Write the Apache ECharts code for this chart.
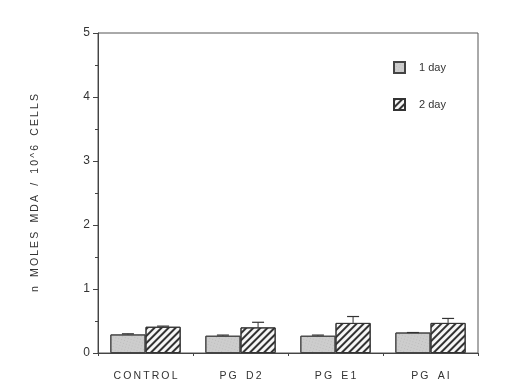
<!DOCTYPE html>
<html><head><meta charset="utf-8">
<script src="https://cdn.jsdelivr.net/npm/echarts@6/dist/echarts.min.js"></script>
<style>html,body{margin:0;padding:0;background:#fff}#c{width:507px;height:391px}</style>
</head><body><div id="c"></div>
<script>
const categories = ['CONTROL', 'PG D2', 'PG E1', 'PG AI'];
const day1 = [0.29, 0.27, 0.27, 0.32];
const day2 = [0.41, 0.40, 0.47, 0.47];
const day1Err = [0.30, 0.28, 0.28, 0.32];
const day2Err = [0.42, 0.48, 0.57, 0.54];
const yTicks = [0, 1, 2, 3, 4, 5];
const seriesNames = ['1 day', '2 day'];

const font = 'Liberation Sans, Arial, sans-serif';
const spaced = s => s.split('').join('\u2009').replace(/\u2009 \u2009/g, '\u2009 \u2009\u2009');

function errSeries(vals, sign) {
  return {
    type: 'custom', silent: true, z: 5,
    data: vals.map((v, i) => [i, v]),
    renderItem: function (params, api) {
      const band = api.size([1, 0])[0];
      const c = api.coord([api.value(0), api.value(1)]);
      const x = c[0] + sign * band * 0.185;
      const i = params.dataIndex;
      const base = api.coord([api.value(0), (sign < 0 ? day1 : day2)[i]])[1];
      return {
        type: 'group', children: [
          { type: 'line', shape: { x1: x, y1: base, x2: x, y2: c[1] }, style: { stroke: '#333', lineWidth: 1 } },
          { type: 'line', shape: { x1: x - 6, y1: c[1], x2: x + 6, y2: c[1] }, style: { stroke: '#333', lineWidth: 1.2 } }
        ]
      };
    }
  };
}

const chart = echarts.init(document.getElementById('c'));
chart.setOption({
  animation: false,
  backgroundColor: '#fff',
  textStyle: { fontFamily: font },
  grid: { left: 98, right: 29, top: 33, bottom: 38, show: true, borderColor: '#555', borderWidth: 1 },
  legend: {
    orient: 'vertical', left: 388, top: 56, itemGap: 24, itemWidth: 11, itemHeight: 11,
    icon: 'rect',
    data: seriesNames,
    textStyle: { fontSize: 11, color: '#333', fontFamily: font, padding: [0, 0, 0, 9] }
  },
  xAxis: {
    type: 'category', data: categories,
    axisLine: { lineStyle: { color: '#444' } },
    axisTick: { show: true, length: 3, lineStyle: { color: '#444' } },
    axisLabel: { fontSize: 10.5, color: '#333', margin: 18, formatter: v => spaced(v) }
  },
  yAxis: {
    type: 'value', min: 0, max: 5, interval: 1,
    name: spaced('n MOLES MDA / 10^6 CELLS'), nameLocation: 'middle', nameGap: 57,
    nameTextStyle: { fontSize: 10.5, color: '#333' },
    axisLine: { show: true, lineStyle: { color: '#444' } },
    axisTick: { show: true, length: 5, lineStyle: { color: '#444' } },
    minorTick: { show: true, splitNumber: 2, length: 3, lineStyle: { color: '#444' } },
    splitLine: { show: false },
    axisLabel: { fontSize: 12, color: '#333', margin: 8, formatter: v => yTicks.includes(v) ? String(v) : '' }
  },
  series: [
    {
      name: seriesNames[0], type: 'bar', data: day1, barWidth: '37%', barGap: '0%',
      itemStyle: {
        color: '#cdcdcd', borderColor: '#444', borderWidth: 1,
        decal: { symbol: 'rect', symbolSize: 0.7, color: 'rgba(100,100,100,0.45)', dashArrayX: [1, 2], dashArrayY: [1, 2], rotation: 0.3 }
      }
    },
    {
      name: seriesNames[1], type: 'bar', data: day2, barWidth: '37%', barGap: '0%',
      itemStyle: {
        color: '#f6f6f6', borderColor: '#333', borderWidth: 1,
        decal: { symbol: 'rect', symbolSize: 1, color: '#333', dashArrayX: [[1, 0]], dashArrayY: [2, 2.5], rotation: -Math.PI / 4 }
      }
    },
    errSeries(day1Err, -1),
    errSeries(day2Err, 1)
  ]
});
</script></body></html>
